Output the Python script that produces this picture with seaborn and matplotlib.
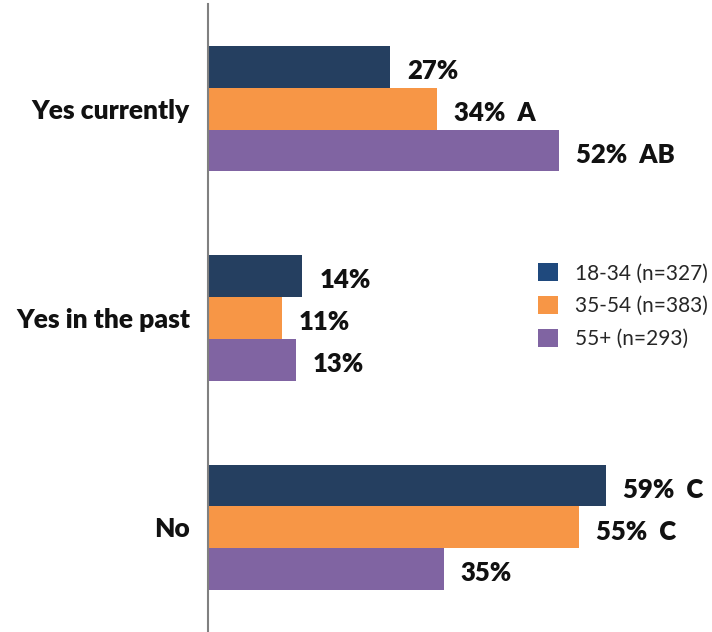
import matplotlib
matplotlib.use("Agg")
import matplotlib.pyplot as plt
import seaborn as sns
import pandas as pd
from matplotlib.patches import Patch

categories = ["Yes currently", "Yes in the past", "No"]
age_groups = ["18-34 (n=327)", "35-54 (n=383)", "55+ (n=293)"]
values_18_34 = [27, 14, 59]
values_35_54 = [34, 11, 55]
values_55_plus = [52, 13, 35]
sig_18_34 = ["", "", "C"]
sig_35_54 = ["A", "", "C"]
sig_55_plus = ["AB", "", ""]

bar_colors = ["#253F60", "#F79646", "#8064A2"]
legend_colors = ["#1F497D", "#F79646", "#8064A2"]

rows = []
for grp, vals, sigs in zip(age_groups,
                           [values_18_34, values_35_54, values_55_plus],
                           [sig_18_34, sig_35_54, sig_55_plus]):
    for cat, v, s in zip(categories, vals, sigs):
        rows.append({"category": cat, "group": grp, "value": v, "sig": s})
df = pd.DataFrame(rows)

sns.set_theme(style="white")
plt.rcParams["font.family"] = ["Lato", "DejaVu Sans"]

fig = plt.figure(figsize=(7.12, 6.32), dpi=100)
ax = fig.add_axes([208 / 712, 0.0, 499 / 712, 628 / 632])

sns.barplot(data=df, y="category", x="value", hue="group", order=categories,
            hue_order=age_groups, palette=bar_colors, orient="h", width=0.6,
            saturation=1, ax=ax, legend=False, edgecolor="none")

ax.set_xlim(0, 74)
ax.set_ylim(2.5, -0.5)
ax.set_xlabel("")
ax.set_ylabel("")
ax.set_xticks([])
ax.tick_params(axis="y", length=0, pad=13)
for lbl in ax.get_yticklabels():
    lbl.set_fontweight("heavy")
    lbl.set_fontsize(19)
    lbl.set_color("#111111")

for side in ["top", "right", "bottom"]:
    ax.spines[side].set_visible(False)
ax.spines["left"].set_color("#808080")
ax.spines["left"].set_linewidth(1.5)

# value labels with significance letters
for container, grp in zip(ax.containers, age_groups):
    sub = df[df["group"] == grp].set_index("category").loc[categories]
    for bar, (_, r) in zip(container, sub.iterrows()):
        txt = f"{r['value']}%"
        if r["sig"]:
            txt += f"  {r['sig']}"
        ax.text(bar.get_width() + 2.5, bar.get_y() + bar.get_height() / 2 + 0.02, txt,
                va="center", ha="left", fontsize=18.5, fontweight="heavy", color="#111111")

handles = [Patch(facecolor=c, edgecolor="none") for c in legend_colors]
leg = fig.legend(handles, age_groups, loc="center left", bbox_to_anchor=(538 / 712, 1 - 306 / 632),
                 frameon=False, fontsize=15, handlelength=0.96, handleheight=0.96,
                 labelspacing=0.6, handletextpad=0.8, borderpad=0, borderaxespad=0)

fig.savefig("out.png", dpi=100)
